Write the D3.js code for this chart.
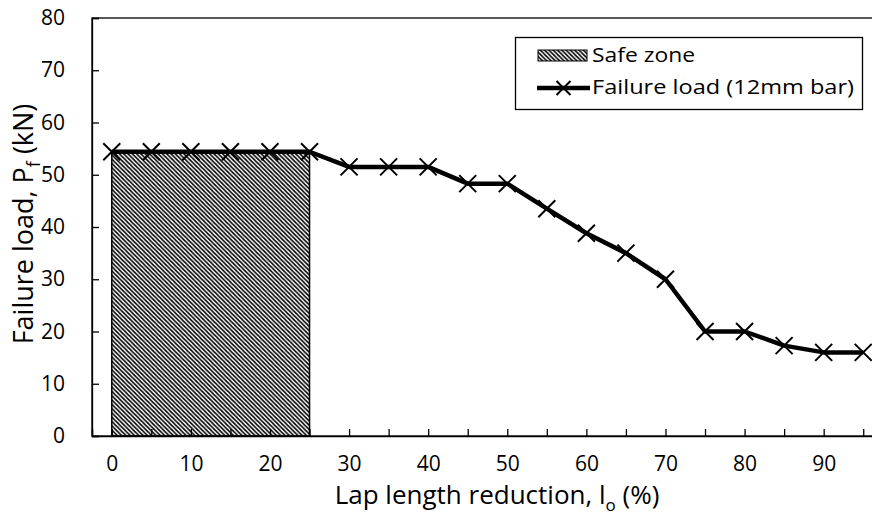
<!DOCTYPE html>
<html>
<head>
<meta charset="utf-8">
<script src="https://cdn.jsdelivr.net/npm/d3@7"></script>
<style>
  body { margin: 0; background: #fff; }
  text { font-family: "Open Sans", sans-serif; fill: #000; }
</style>
</head>
<body>
<script>
// lap length reduction (%) and failure load (kN)
var reduction = [0, 5, 10, 15, 20, 25, 30, 35, 40, 45, 50, 55, 60, 65, 70, 75, 80, 85, 90, 95];
var failureLoad = [54.4, 54.4, 54.4, 54.4, 54.4, 54.4, 51.5, 51.5, 51.5, 48.3, 48.3, 43.5, 38.8, 35, 30, 20, 20, 17.3, 16, 16];
var safeZone = [0, 25];
var safeZoneLoad = 54.4;
var yTicks = [0, 10, 20, 30, 40, 50, 60, 70, 80];
var xLabels = [0, 10, 20, 30, 40, 50, 60, 70, 80, 90];
var legendLabels = ["Safe zone", "Failure load (12mm bar)"];
var legendWidths = [103, 262];

var width = 872, height = 526;
var margin = {top: 18, left: 92, bottom: 90};

var svg = d3.select("body")
            .append("svg")
            .attr("width", width)
            .attr("height", height);

var defs = svg.append("defs");
var hatch = defs.append("pattern")
    .attr("id", "hatch")
    .attr("patternUnits", "userSpaceOnUse")
    .attr("width", 4.3)
    .attr("height", 4.3);
hatch.append("path")
    .attr("d", "M-1,-1 L5.3,5.3 M-1,3.3 L1,5.3 M3.3,-1 L5.3,1")
    .attr("stroke", "#000")
    .attr("stroke-width", 1.6);

var x = d3.scaleLinear().domain([-2.5, 97.5]).range([margin.left, 883]);
var y = d3.scaleLinear().domain([0, 80]).range([height - margin.bottom, margin.top]);

// frame (right side falls outside the picture)
svg.append("rect")
    .attr("x", x(-2.5))
    .attr("y", y(80))
    .attr("width", x(97.5) - x(-2.5))
    .attr("height", y(0) - y(80))
    .attr("fill", "none")
    .attr("stroke", "#000")
    .attr("stroke-width", 1.3);

// safe zone
svg.append("rect")
    .attr("x", x(safeZone[0]))
    .attr("y", y(safeZoneLoad))
    .attr("width", x(safeZone[1]) - x(safeZone[0]))
    .attr("height", y(0) - y(safeZoneLoad))
    .attr("fill", "url(#hatch)")
    .attr("stroke", "#000")
    .attr("stroke-width", 1.5);

// y axis
var yAxis = svg.append("g")
    .attr("transform", "translate(" + x(-2.5) + ",0)")
    .call(d3.axisLeft(y).tickValues(yTicks).tickSize(-7).tickPadding(27));
yAxis.select(".domain").attr("stroke-width", 1.3);
yAxis.selectAll(".tick line").attr("stroke-width", 1.3);
yAxis.selectAll(".tick text")
    .attr("font-size", "21px")
    .attr("font-family", "Open Sans")
    .attr("fill", "#000");

// x axis
var xAxis = svg.append("g")
    .attr("transform", "translate(0," + y(0) + ")")
    .call(d3.axisBottom(x).tickValues(reduction).tickSize(-7).tickPadding(20)
        .tickFormat(function(d) { return xLabels.indexOf(d) >= 0 ? d : ""; }));
xAxis.select(".domain").attr("stroke-width", 1.5);
xAxis.selectAll(".tick line").attr("stroke-width", 1.3);
xAxis.selectAll(".tick text")
    .attr("font-size", "21px")
    .attr("font-family", "Open Sans")
    .attr("fill", "#000");

// line
var line = d3.line()
    .x(function(d, i) { return x(reduction[i]); })
    .y(function(d) { return y(d); });

svg.append("path")
    .datum(failureLoad)
    .attr("d", line)
    .attr("fill", "none")
    .attr("stroke", "#000")
    .attr("stroke-width", 4.5)
    .attr("stroke-linejoin", "round");

function cross(g, cx, cy, r) {
  g.append("path")
    .attr("d", "M" + (cx - r) + "," + (cy - r) + "L" + (cx + r) + "," + (cy + r) +
               "M" + (cx - r) + "," + (cy + r) + "L" + (cx + r) + "," + (cy - r))
    .attr("stroke", "#000")
    .attr("stroke-width", 2)
    .attr("fill", "none");
}

var markers = svg.append("g");
failureLoad.forEach(function(d, i) {
  cross(markers, x(reduction[i]), y(d), 8.5);
});

// axis titles
svg.append("text")
    .attr("x", 497)
    .attr("y", 504)
    .attr("text-anchor", "middle")
    .attr("font-size", "26px")
    .html('Lap length reduction, l<tspan font-size="17px" dy="7">o</tspan><tspan dy="-7"> (%)</tspan>');

svg.append("text")
    .attr("transform", "translate(33," + 224 + ") rotate(-90)")
    .attr("text-anchor", "middle")
    .attr("font-size", "27px")
    .html('Failure load, P<tspan font-size="18px" dy="7">f</tspan><tspan dy="-7"> (kN)</tspan>');

// legend
var legend = svg.append("g");
legend.append("rect")
    .attr("x", 515.5)
    .attr("y", 37.5)
    .attr("width", 347)
    .attr("height", 72)
    .attr("fill", "#fff")
    .attr("stroke", "#000")
    .attr("stroke-width", 1.3);

legend.append("rect")
    .attr("x", 538)
    .attr("y", 50)
    .attr("width", 49)
    .attr("height", 11)
    .attr("fill", "url(#hatch)")
    .attr("stroke", "#000")
    .attr("stroke-width", 1);

legend.append("line")
    .attr("x1", 537).attr("x2", 590)
    .attr("y1", 88).attr("y2", 88)
    .attr("stroke", "#000")
    .attr("stroke-width", 4.5);
cross(legend, 563.5, 88, 7);

legend.selectAll("text.lab")
    .data(legendLabels)
    .enter()
    .append("text")
    .attr("class", "lab")
    .attr("x", 592)
    .attr("y", function(d, i) { return 62 + i * 32; })
    .attr("font-size", "20px")
    .attr("textLength", function(d, i) { return legendWidths[i]; })
    .attr("lengthAdjust", "spacingAndGlyphs")
    .text(function(d) { return d; });
</script>
</body>
</html>
